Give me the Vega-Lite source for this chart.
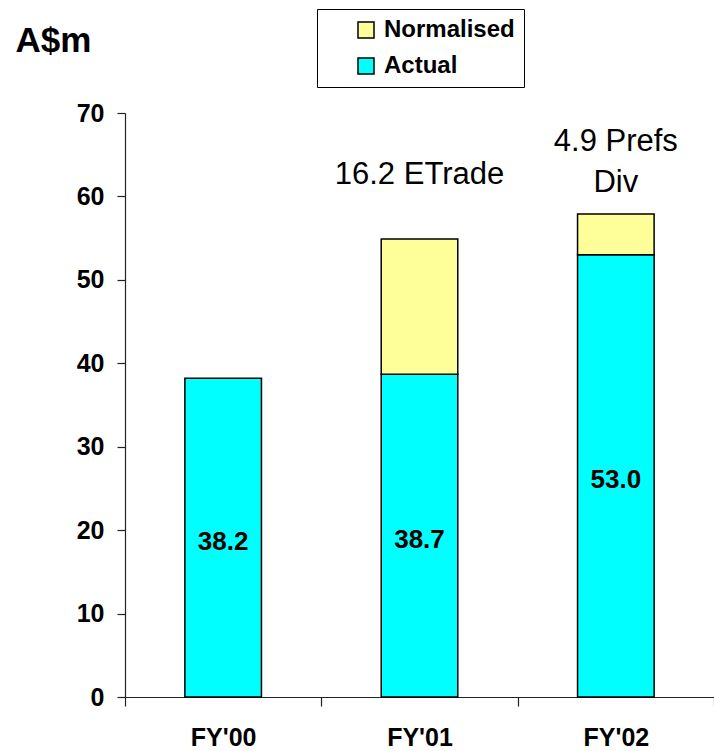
{
  "$schema": "https://vega.github.io/schema/vega-lite/v6.json",
  "width": 589,
  "height": 584,
  "autosize": {"type": "none"},
  "padding": {"left": 125, "top": 113, "right": 0, "bottom": 54},
  "background": "white",
  "config": {
    "view": {"stroke": null},
    "font": "Liberation Sans",
    "axis": {
      "domainColor": "#222222",
      "domainWidth": 1.2,
      "tickColor": "#222222",
      "tickWidth": 1.2,
      "tickSize": 8,
      "labelColor": "black",
      "labelFont": "Liberation Sans",
      "labelFontWeight": "bold",
      "labelFontSize": 25,
      "grid": false
    },
    "legend": {
      "labelFont": "Liberation Sans",
      "labelFontWeight": "bold",
      "labelFontSize": 24,
      "labelColor": "black"
    }
  },
  "data": {
    "values": [
      {"year": "FY'00", "type": "Actual", "value": 38.2},
      {"year": "FY'01", "type": "Actual", "value": 38.7},
      {"year": "FY'01", "type": "Normalised", "value": 16.2},
      {"year": "FY'02", "type": "Actual", "value": 53.0},
      {"year": "FY'02", "type": "Normalised", "value": 4.9}
    ]
  },
  "encoding": {
    "x": {
      "field": "year",
      "type": "nominal",
      "scale": {"paddingInner": 0, "paddingOuter": 0},
      "axis": {
        "title": null,
        "labelAngle": 0,
        "tickBand": "extent",
        "tickSize": 9,
        "labelPadding": 19
      }
    }
  },
  "layer": [
    {
      "mark": {"type": "bar", "width": {"band": 0.39}, "stroke": "black", "strokeWidth": 1.5},
      "encoding": {
        "y": {
          "field": "value",
          "type": "quantitative",
          "stack": "zero",
          "scale": {"domain": [0, 70], "nice": false},
          "axis": {
            "values": [0, 10, 20, 30, 40, 50, 60, 70],
            "labelPadding": 13,
            "title": "A$m",
            "titleAngle": 0,
            "titleFont": "Liberation Sans",
            "titleFontSize": 35,
            "titleFontWeight": "bold",
            "titleColor": "black",
            "titleAlign": "center",
            "titleBaseline": "middle",
            "titleX": -72,
            "titleY": -73
          }
        },
        "color": {
          "field": "type",
          "type": "nominal",
          "scale": {"domain": ["Normalised", "Actual"], "range": ["#FFFF99", "#00FFFF"]},
          "legend": {
            "title": null,
            "orient": "none",
            "legendX": 192,
            "legendY": -104,
            "strokeColor": "black",
            "padding": 9,
            "symbolType": "square",
            "symbolSize": 256,
            "symbolStrokeWidth": 1.5,
            "symbolOffset": 28,
            "labelOffset": 6,
            "rowPadding": 12,
            "labelExpr": "datum.label + '\u2003'"
          }
        },
        "order": {"field": "type", "sort": "ascending"}
      }
    },
    {
      "transform": [
        {"filter": "datum.type === 'Actual'"},
        {"calculate": "datum.value / 2", "as": "mid"}
      ],
      "mark": {"type": "text", "font": "Liberation Sans", "fontWeight": "bold", "fontSize": 26, "color": "black", "dy": 4},
      "encoding": {
        "y": {"field": "mid", "type": "quantitative"},
        "text": {"field": "value", "type": "quantitative", "format": ".1f"}
      }
    },
    {
      "transform": [
        {"filter": "datum.type === 'Normalised' && datum.year === \"FY'01\""},
        {"calculate": "format(datum.value, '.1f') + ' ETrade'", "as": "note"}
      ],
      "mark": {"type": "text", "font": "Liberation Sans", "fontSize": 31, "color": "black"},
      "encoding": {
        "y": {"datum": 62.6},
        "text": {"field": "note", "type": "nominal"}
      }
    },
    {
      "transform": [
        {"filter": "datum.type === 'Normalised' && datum.year === \"FY'02\""},
        {"calculate": "format(datum.value, '.1f') + ' Prefs|Div'", "as": "note"}
      ],
      "mark": {"type": "text", "font": "Liberation Sans", "fontSize": 31, "color": "black", "lineBreak": "|", "lineHeight": 41},
      "encoding": {
        "y": {"datum": 66.5},
        "text": {"field": "note", "type": "nominal"}
      }
    }
  ]
}
